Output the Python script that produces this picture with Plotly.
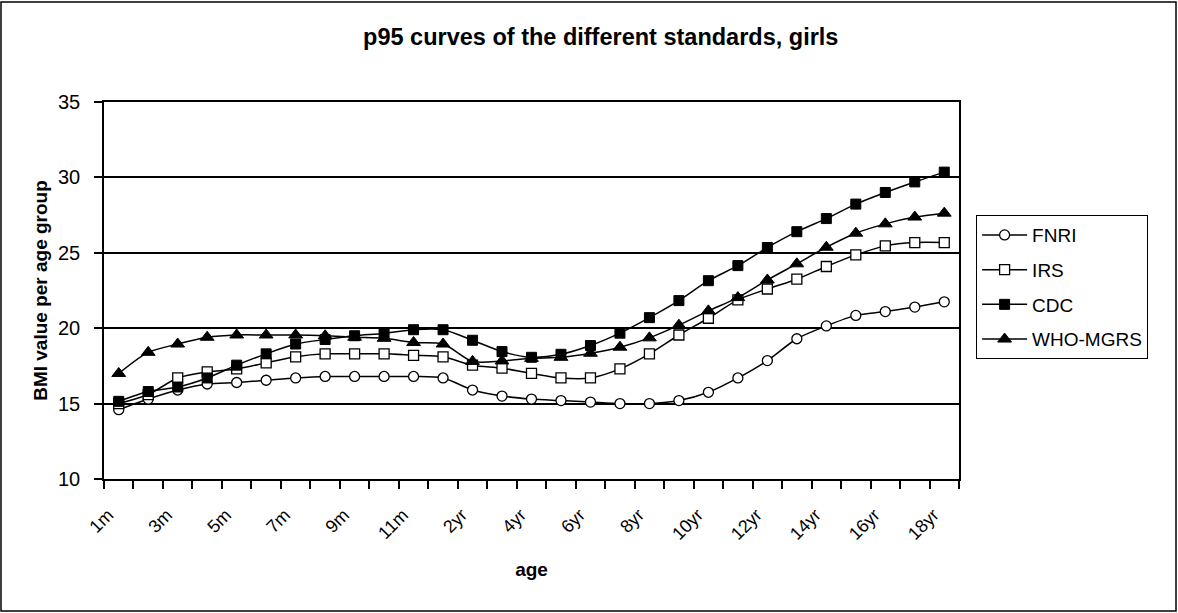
import plotly.graph_objects as go

# Age groups: months for the first year, then years
ages = ["1m", "2m", "3m", "4m", "5m", "6m", "7m", "8m", "9m", "10m", "11m", "1yr",
        "2yr", "3yr", "4yr", "5yr", "6yr", "7yr", "8yr", "9yr", "10yr", "11yr",
        "12yr", "13yr", "14yr", "15yr", "16yr", "17yr", "18yr"]

# p95 BMI values per standard
fnri = [14.6, 15.3, 15.9, 16.3, 16.4, 16.55, 16.7, 16.8, 16.8, 16.8, 16.8, 16.7,
        15.9, 15.5, 15.3, 15.2, 15.1, 15.0, 15.0, 15.2, 15.75, 16.7,
        17.85, 19.3, 20.15, 20.85, 21.1, 21.4, 21.75]
irs = [15.0, 15.6, 16.7, 17.1, 17.3, 17.7, 18.1, 18.3, 18.3, 18.3, 18.2, 18.1,
       17.55, 17.35, 17.0, 16.7, 16.7, 17.3, 18.3, 19.55, 20.66, 21.88,
       22.6, 23.25, 24.09, 24.86, 25.46, 25.68, 25.68]
cdc = [15.15, 15.8, 16.1, 16.7, 17.55, 18.3, 18.95, 19.25, 19.5, 19.65, 19.9, 19.9,
       19.2, 18.45, 18.07, 18.27, 18.85, 19.67, 20.7, 21.83, 23.15, 24.15,
       25.35, 26.4, 27.27, 28.23, 29.0, 29.7, 30.35]
who_mgrs = [17.0, 18.4, 18.95, 19.4, 19.55, 19.55, 19.55, 19.5, 19.4, 19.33, 19.05, 18.95,
            17.8, 17.83, 18.0, 18.07, 18.34, 18.74, 19.36, 20.2, 21.15, 22.03,
            23.2, 24.27, 25.37, 26.3, 26.92, 27.37, 27.63]

# Only every second age group gets a label; trailing no-break spaces nudge the
# rotated labels a little down and to the left of their tick
tick_text = [a + "\u00a0\u00a0\u00a0" if i % 2 == 0 else "" for i, a in enumerate(ages)]

FONT = "Liberation Sans, Arial, sans-serif"

series = [
    ("FNRI", fnri, dict(symbol="circle", size=10, color="white",
                        line=dict(color="black", width=1.3))),
    ("IRS", irs, dict(symbol="square", size=10, color="white",
                      line=dict(color="black", width=1.3))),
    ("CDC", cdc, dict(symbol="square", size=10, color="black",
                      line=dict(color="black", width=1))),
    ("WHO-MGRS", who_mgrs, dict(symbol="triangle-up", size=12, color="black",
                                line=dict(color="black", width=1))),
]

fig = go.Figure()
for name, vals, marker in series:
    fig.add_trace(go.Scatter(
        x=ages, y=vals, name=name, mode="lines+markers",
        line=dict(color="black", width=1.5, shape="spline", smoothing=0.8),
        marker=marker, legendgroup=name,
    ))

fig.update_layout(
    width=1178, height=613,
    paper_bgcolor="white", plot_bgcolor="white",
    margin=dict(l=104, r=219, t=102, b=134),
    font=dict(family=FONT, color="black", size=18),
    title=dict(text="<b>p95 curves of the different standards, girls</b>",
               x=0.51, xanchor="center", xref="container", y=0.94, yanchor="middle",
               font=dict(size=23.5, family=FONT)),
    showlegend=True,
    legend=dict(x=1.02, y=0.70, xanchor="left", yanchor="top",
                bordercolor="black", borderwidth=1, bgcolor="white",
                itemwidth=45, tracegroupgap=7, font=dict(size=19, family=FONT)),
    shapes=[dict(type="rect", xref="paper", yref="paper",
                 x0=-103 / 855, x1=(1176 - 104) / 855,
                 y0=-132 / 377, y1=(479 - 2) / 377,
                 line=dict(color="black", width=1.5), layer="below")],
)

fig.update_xaxes(
    type="category", range=[-0.5, len(ages) - 0.5],
    tickmode="array", tickvals=ages, ticktext=tick_text,
    tickangle=-45, tickson="boundaries", ticks="outside", ticklen=8,
    ticklabelstandoff=6,
    tickcolor="black", tickwidth=1.5,
    showline=True, linecolor="black", linewidth=1.5, mirror=True,
    showgrid=False, tickfont=dict(size=18),
    title=dict(text="<b>age</b>", font=dict(size=19), standoff=20),
)
fig.update_yaxes(
    range=[10, 35], dtick=5, ticks="outside", ticklen=8,
    ticklabelstandoff=10,
    tickcolor="black", tickwidth=1.5,
    showline=True, linecolor="black", linewidth=1.5, mirror=True,
    showgrid=True, gridcolor="black", gridwidth=1.5, zeroline=False,
    tickfont=dict(size=20),
    title=dict(text="<b>BMI value per age group</b>", font=dict(size=19), standoff=5),
)

fig.write_html("out.html")
